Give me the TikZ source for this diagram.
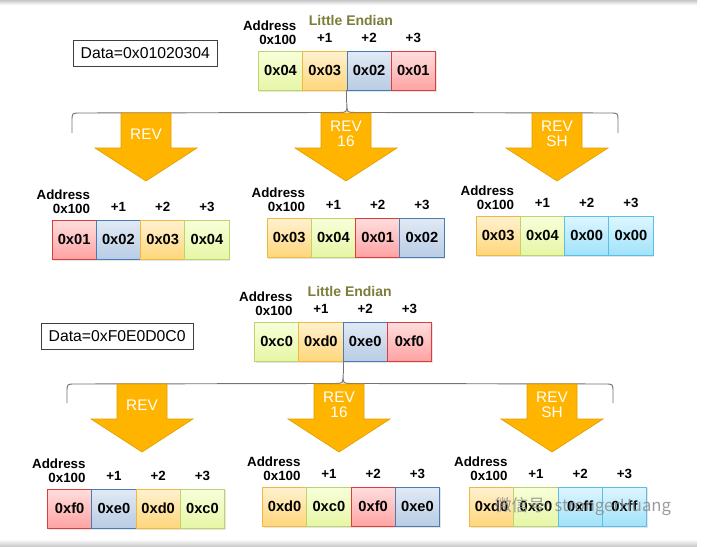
\documentclass[tikz,border=0pt]{standalone}
\usepackage{fontspec}
\setmainfont{Liberation Sans}
\newfontfamily\cjkfont{Noto Sans CJK SC}
\usepackage{xcolor}
\usepackage{tikz}
\usetikzlibrary{positioning, calc, shadows}
\definecolor{revorange}{RGB}{255,180,0}
\definecolor{revedge}{RGB}{228,158,0}
\definecolor{endianolive}{RGB}{125,125,58}
\definecolor{limetop}{RGB}{247,255,218}\definecolor{limebot}{RGB}{230,246,165}\definecolor{limeedge}{RGB}{190,210,110}
\definecolor{orangetop}{RGB}{255,241,208}\definecolor{orangebot}{RGB}{255,214,122}\definecolor{orangeedge}{RGB}{240,185,60}
\definecolor{bluetop}{RGB}{226,234,245}\definecolor{bluebot}{RGB}{184,204,228}\definecolor{blueedge}{RGB}{70,125,180}
\definecolor{redtop}{RGB}{255,222,222}\definecolor{redbot}{RGB}{255,162,162}\definecolor{rededge}{RGB}{220,60,60}
\definecolor{cyantop}{RGB}{222,246,255}\definecolor{cyanbot}{RGB}{160,226,250}\definecolor{cyanedge}{RGB}{90,190,230}
\tikzset{
  % Memory cell styles
  cell/.style={rectangle, minimum width=33.2pt, minimum height=29.6pt, inner sep=0pt, outer sep=0pt, line width=0.6pt, font=\fontsize{11}{12}\selectfont\bfseries, drop shadow={shadow xshift=0.8pt, shadow yshift=-0.8pt, opacity=0.2}},
  limebox/.style={cell, top color=limetop, bottom color=limebot, draw=limeedge},
  orangebox/.style={cell, top color=orangetop, bottom color=orangebot, draw=orangeedge},
  bluebox/.style={cell, top color=bluetop, bottom color=bluebot, draw=blueedge},
  redbox/.style={cell, top color=redtop, bottom color=redbot, draw=rededge},
  cyanbox/.style={cell, top color=cyantop, bottom color=cyanbot, draw=cyanedge},
  % Labels round the cells
  addr/.style={align=right, inner sep=0pt, font=\fontsize{10}{10.5}\selectfont\bfseries},
  offs/.style={inner sep=0pt, font=\fontsize{10}{12}\selectfont\bfseries},
  endian/.style={inner sep=0pt, text=endianolive, font=\fontsize{10.5}{12}\selectfont\bfseries},
  datanode/.style={rectangle, draw=black!75, line width=0.6pt, inner xsep=5.5pt, minimum height=19.5pt, font=\fontsize{11.8}{13}\selectfont},
  % Instruction arrows and braces
  revarrow/.style={fill=revorange, draw=revedge, line width=0.5pt},
  revtext/.style={text=white, align=center, inner sep=0pt, font=\fontsize{11.5}{11.5}\selectfont},
  brace/.style={draw=black!55, line width=0.7pt},
  watermark/.style={text=black!45, opacity=0.85, inner sep=0pt, font=\fontsize{12.5}{14}\selectfont},
}
\begin{document}
\begin{tikzpicture}[x=0.75pt, y=-0.75pt]
    \fill[white] (0,0) rectangle (705,546);
    \useasboundingbox (0,0) rectangle (705,546);
    \shade[top color=black!22, bottom color=white] (0,0) rectangle (697,5);
    \shade[top color=white, bottom color=black!20] (0,539) rectangle (697,546);

    % Word 0x01020304
    \node[datanode, anchor=west] (tdata) at (73,53) {Data=0x01020304};
    \node[limebox, anchor=north west] (t1a) at (258.4,51) {0x04};
    \node[orangebox, right=0pt of t1a] (t1b) {0x03};
    \node[bluebox, right=0pt of t1b] (t1c) {0x02};
    \node[redbox, right=0pt of t1c] (t1d) {0x01};
    \node[addr, above left=4.5pt and 4.5pt of t1a.north east] (t1addr) {Address\\0x100};
    \node[offs, above=6pt of t1b] (t1p1) {+1};
    \node[offs, above=6pt of t1c] (t1p2) {+2};
    \node[offs, above=6pt of t1d] (t1p3) {+3};
    \node[endian, above=19pt of t1b.north east, xshift=3pt] (t1end) {Little Endian};

    % Brace
    \coordinate (ttip) at ($(t1b.south east)+(0,13)$);
    \draw[brace] (t1b.south east) -- (ttip);
    \draw[brace] (72,133) -- (72,121) .. controls (72,113) .. (80,113) -- ($(ttip)+(-8,9)$) .. controls ($(ttip)+(0,9)$) .. (ttip)
      .. controls ($(ttip)+(0,9)$) .. ($(ttip)+(8,9)$) -- (610,113) .. controls (618,113) .. (618,121) -- (618,133);

    % REV result
    \node[redbox, anchor=north west] (t2a) at (52,220) {0x01};
    \node[bluebox, right=0pt of t2a] (t2b) {0x02};
    \node[orangebox, right=0pt of t2b] (t2c) {0x03};
    \node[limebox, right=0pt of t2c] (t2d) {0x04};
    \node[addr, above left=4.5pt and 4.5pt of t2a.north east] (t2addr) {Address\\0x100};
    \node[offs, above=6pt of t2b] (t2p1) {+1};
    \node[offs, above=6pt of t2c] (t2p2) {+2};
    \node[offs, above=6pt of t2d] (t2p3) {+3};

    % REV16 result
    \node[orangebox, anchor=north west] (t3a) at (267,218) {0x03};
    \node[limebox, right=0pt of t3a] (t3b) {0x04};
    \node[redbox, right=0pt of t3b] (t3c) {0x01};
    \node[bluebox, right=0pt of t3c] (t3d) {0x02};
    \node[addr, above left=4.5pt and 4.5pt of t3a.north east] (t3addr) {Address\\0x100};
    \node[offs, above=6pt of t3b] (t3p1) {+1};
    \node[offs, above=6pt of t3c] (t3p2) {+2};
    \node[offs, above=6pt of t3d] (t3p3) {+3};

    % REVSH result
    \node[orangebox, anchor=north west] (t4a) at (476,216) {0x03};
    \node[limebox, right=0pt of t4a] (t4b) {0x04};
    \node[cyanbox, right=0pt of t4b] (t4c) {0x00};
    \node[cyanbox, right=0pt of t4c] (t4d) {0x00};
    \node[addr, above left=4.5pt and 4.5pt of t4a.north east] (t4addr) {Address\\0x100};
    \node[offs, above=6pt of t4b] (t4p1) {+1};
    \node[offs, above=6pt of t4c] (t4p2) {+2};
    \node[offs, above=6pt of t4d] (t4p3) {+3};

    % Word 0xF0E0D0C0
    \node[datanode, anchor=west] (bdata) at (41,336) {Data=0xF0E0D0C0};
    \node[limebox, anchor=north west] (b1a) at (254.5,322) {0xc0};
    \node[orangebox, right=0pt of b1a] (b1b) {0xd0};
    \node[bluebox, right=0pt of b1b] (b1c) {0xe0};
    \node[redbox, right=0pt of b1c] (b1d) {0xf0};
    \node[addr, above left=4.5pt and 4.5pt of b1a.north east] (b1addr) {Address\\0x100};
    \node[offs, above=6pt of b1b] (b1p1) {+1};
    \node[offs, above=6pt of b1c] (b1p2) {+2};
    \node[offs, above=6pt of b1d] (b1p3) {+3};
    \node[endian, above=19pt of b1b.north east, xshift=5pt] (b1end) {Little Endian};

    % Brace
    \coordinate (btip) at ($(b1b.south east)+(0,13)$);
    \draw[brace] (b1b.south east) -- (btip);
    \draw[brace] (67,403) -- (67,392) .. controls (67,384) .. (75,384) -- ($(btip)+(-8,9)$) .. controls ($(btip)+(0,9)$) .. (btip)
      .. controls ($(btip)+(0,9)$) .. ($(btip)+(8,9)$) -- (605,384) .. controls (613,384) .. (613,392) -- (613,403);

    % REV result
    \node[redbox, anchor=north west] (b2a) at (47.5,489) {0xf0};
    \node[bluebox, right=0pt of b2a] (b2b) {0xe0};
    \node[orangebox, right=0pt of b2b] (b2c) {0xd0};
    \node[limebox, right=0pt of b2c] (b2d) {0xc0};
    \node[addr, above left=4.5pt and 4.5pt of b2a.north east] (b2addr) {Address\\0x100};
    \node[offs, above=6pt of b2b] (b2p1) {+1};
    \node[offs, above=6pt of b2c] (b2p2) {+2};
    \node[offs, above=6pt of b2d] (b2p3) {+3};

    % REV16 result
    \node[orangebox, anchor=north west] (b3a) at (262.5,487) {0xd0};
    \node[limebox, right=0pt of b3a] (b3b) {0xc0};
    \node[redbox, right=0pt of b3b] (b3c) {0xf0};
    \node[bluebox, right=0pt of b3c] (b3d) {0xe0};
    \node[addr, above left=4.5pt and 4.5pt of b3a.north east] (b3addr) {Address\\0x100};
    \node[offs, above=6pt of b3b] (b3p1) {+1};
    \node[offs, above=6pt of b3c] (b3p2) {+2};
    \node[offs, above=6pt of b3d] (b3p3) {+3};

    % REVSH result
    \node[orangebox, anchor=north west] (b4a) at (469.5,487) {0xd0};
    \node[limebox, right=0pt of b4a] (b4b) {0xc0};
    \node[cyanbox, right=0pt of b4b] (b4c) {0xff};
    \node[cyanbox, right=0pt of b4c] (b4d) {0xff};
    \node[addr, above left=4.5pt and 4.5pt of b4a.north east] (b4addr) {Address\\0x100};
    \node[offs, above=6pt of b4b] (b4p1) {+1};
    \node[offs, above=6pt of b4c] (b4p2) {+2};
    \node[offs, above=6pt of b4d] (b4p3) {+3};

    % Instruction arrows
    \foreach \cx/\cy/\lbl [count=\i] in {146/113/REV, 346/113/{REV\\16}, 557/113/{REV\\SH}, 142/384/REV, 339/384/{REV\\16}, 552/384/{REV\\SH}} {
      \draw[revarrow] (\cx-25,\cy) -- ++(50,0) -- ++(0,35) -- ++(26,0) -- ++(-51,33) -- ++(-51,-33) -- ++(26,0) -- cycle;
      \node[revtext] (op\i) at (\cx,\cy+21) {\lbl};
    }

    \node[watermark] (wmark) at (583,507) {\cjkfont 微信号: strongerHuang};
\end{tikzpicture}
\end{document}
